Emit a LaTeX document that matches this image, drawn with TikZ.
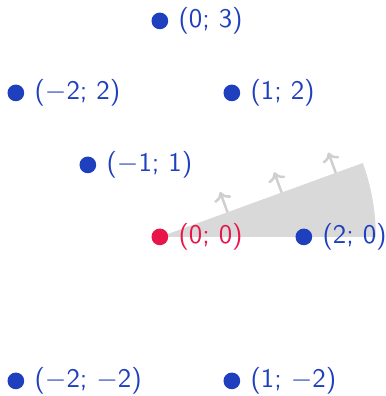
\documentclass[tikz,border=0pt]{standalone}
\usepackage{tikz}
\usetikzlibrary{arrows.meta, positioning, calc}
\definecolor{PointBlue}{HTML}{1E3FBE}
\definecolor{PointRed}{HTML}{E8154A}
\definecolor{WedgeGray}{HTML}{D9D9D9}
\definecolor{NormalGray}{HTML}{CFCFCF}
\tikzset{
    % Text of the point labels
    every node/.style={font=\sffamily\fontsize{10.6}{12}\selectfont},
    % Lattice point
    point/.style={
        circle,
        fill=PointBlue,
        inner sep=0pt,
        minimum size=6.6pt
    },
    % The origin
    origin/.style={
        point,
        fill=PointRed
    },
    % Coordinate label
    coordlabel/.style={
        text=PointBlue,
        inner sep=0pt,
        anchor=west
    },
    % Sector
    wedge/.style={
        fill=WedgeGray
    },
    % Normal arrow
    normal/.style={
        -{To[length=3.5pt, width=7pt]},
        line width=1pt,
        color=NormalGray
    }
}
\begin{document}
\begin{tikzpicture}
                \useasboundingbox (-2.22,-2.21) rectangle (3.14,3.29);

                % Sector and its normals
                \coordinate (o) at (0,0);
                \coordinate (r) at (0:3);
                \fill [wedge] (o) -- (r) arc[start angle=0, end angle=20, radius=3] -- cycle;

                \coordinate (e1) at (20:1.0);
                \coordinate (e2) at (20:1.8);
                \coordinate (e3) at (20:2.6);
                \coordinate (t1) at ($(e1)+(110:0.3)$);
                \coordinate (t2) at ($(e2)+(110:0.3)$);
                \coordinate (t3) at ($(e3)+(110:0.3)$);
                \draw [normal] (e1) -- (t1);
                \draw [normal] (e2) -- (t2);
                \draw [normal] (e3) -- (t3);

                % Points
                \node (p00) [origin] at (0,0) {};
                \node (p20) [point] at (2,0) {};
                \node (p03) [point] at (0,3) {};
                \node (pm22) [point] at (-2,2) {};
                \node (p12) [point] at (1,2) {};
                \node (pm11) [point] at (-1,1) {};
                \node (pm2m2) [point] at (-2,-2) {};
                \node (p1m2) [point] at (1,-2) {};

                % Labels
                \node [coordlabel, text=PointRed, right=0.13cm of p00] {(0; 0)};
                \node [coordlabel, right=0.13cm of p20] {(2; 0)};
                \node [coordlabel, right=0.13cm of p03] {(0; 3)};
                \node [coordlabel, right=0.13cm of pm22] {($-$2; 2)};
                \node [coordlabel, right=0.13cm of p12] {(1; 2)};
                \node [coordlabel, right=0.13cm of pm11] {($-$1; 1)};
                \node [coordlabel, right=0.13cm of pm2m2] {($-$2; $-$2)};
                \node [coordlabel, right=0.13cm of p1m2] {(1; $-$2)};
            \end{tikzpicture}
\end{document}
